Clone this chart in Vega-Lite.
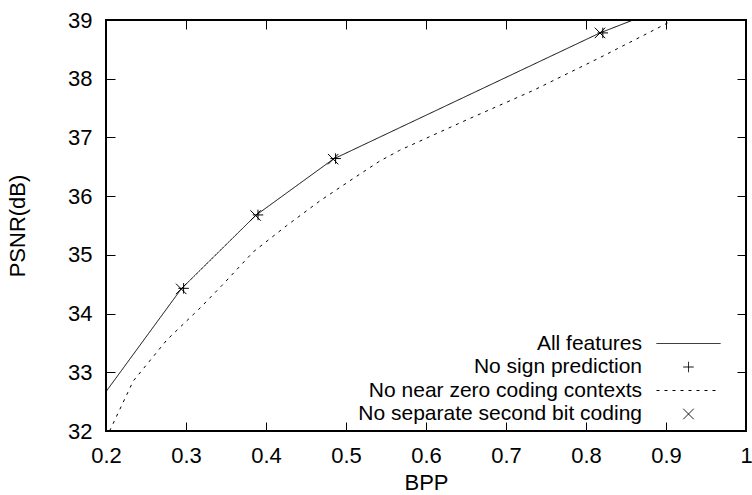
{
  "$schema": "https://vega.github.io/schema/vega-lite/v6.json",
  "width": 640,
  "height": 411,
  "autosize": {"type": "none"},
  "padding": {"left": 106, "top": 20, "right": 6, "bottom": 64},
  "background": "white",
  "config": {
    "view": {"stroke": "black", "strokeWidth": 2},
    "font": "Liberation Sans",
    "axis": {
      "domain": false,
      "grid": false,
      "tickColor": "black",
      "tickSize": -9,
      "tickWidth": 1,
      "labelColor": "black",
      "labelFontSize": 22,
      "labelFont": "Liberation Sans",
      "labelFlush": false,
      "labelOverlap": false,
      "titleFontSize": 22,
      "titleFont": "Liberation Sans",
      "titleFontWeight": "normal",
      "titleColor": "black"
    },
    "legend": {
      "labelFont": "Liberation Sans",
      "labelFontSize": 21,
      "labelColor": "black",
      "labelLimit": 500,
      "symbolStrokeColor": "black",
      "symbolFillColor": "transparent",
      "symbolStrokeWidth": 1,
      "symbolSize": 110,
      "padding": 0
    }
  },
  "data": {
    "values": [
      {"s": "All features", "bpp": 0.2, "psnr": 32.67},
      {"s": "All features", "bpp": 0.294, "psnr": 34.42},
      {"s": "All features", "bpp": 0.387, "psnr": 35.67},
      {"s": "All features", "bpp": 0.484, "psnr": 36.63},
      {"s": "All features", "bpp": 0.8175, "psnr": 38.78},
      {"s": "All features", "bpp": 1.0, "psnr": 39.75},
      {"s": "No sign prediction", "bpp": 0.297, "psnr": 34.43},
      {"s": "No sign prediction", "bpp": 0.39, "psnr": 35.68},
      {"s": "No sign prediction", "bpp": 0.487, "psnr": 36.64},
      {"s": "No sign prediction", "bpp": 0.821, "psnr": 38.78},
      {"s": "No near zero coding contexts", "bpp": 0.2045, "psnr": 32.0},
      {"s": "No near zero coding contexts", "bpp": 0.234, "psnr": 32.85},
      {"s": "No near zero coding contexts", "bpp": 0.276, "psnr": 33.55},
      {"s": "No near zero coding contexts", "bpp": 0.318, "psnr": 34.1},
      {"s": "No near zero coding contexts", "bpp": 0.345, "psnr": 34.48},
      {"s": "No near zero coding contexts", "bpp": 0.384, "psnr": 35.05},
      {"s": "No near zero coding contexts", "bpp": 0.426, "psnr": 35.5},
      {"s": "No near zero coding contexts", "bpp": 0.4675, "psnr": 35.92},
      {"s": "No near zero coding contexts", "bpp": 0.509, "psnr": 36.3},
      {"s": "No near zero coding contexts", "bpp": 0.5425, "psnr": 36.6},
      {"s": "No near zero coding contexts", "bpp": 0.567, "psnr": 36.78},
      {"s": "No near zero coding contexts", "bpp": 0.651, "psnr": 37.3},
      {"s": "No near zero coding contexts", "bpp": 0.734, "psnr": 37.8},
      {"s": "No near zero coding contexts", "bpp": 0.8175, "psnr": 38.36},
      {"s": "No near zero coding contexts", "bpp": 0.9008, "psnr": 38.94},
      {"s": "No near zero coding contexts", "bpp": 0.91, "psnr": 39.02},
      {"s": "No separate second bit coding", "bpp": 0.294, "psnr": 34.42},
      {"s": "No separate second bit coding", "bpp": 0.387, "psnr": 35.67},
      {"s": "No separate second bit coding", "bpp": 0.484, "psnr": 36.63},
      {"s": "No separate second bit coding", "bpp": 0.8175, "psnr": 38.78}
    ]
  },
  "layer": [
    {
      "transform": [{"filter": {"field": "s", "oneOf": ["All features", "No near zero coding contexts"]}}],
      "mark": {"type": "line", "clip": true, "color": "black", "strokeWidth": 1},
      "encoding": {
        "x": {
          "field": "bpp", "type": "quantitative",
          "scale": {"domain": [0.2, 1], "nice": false, "zero": false},
          "axis": {"orient": "bottom", "title": "BPP", "values": [0.2, 0.3, 0.4, 0.5, 0.6, 0.7, 0.8, 0.9, 1], "format": "~g", "labelPadding": 23, "titlePadding": 6}
        },
        "y": {
          "field": "psnr", "type": "quantitative",
          "scale": {"domain": [32, 39], "nice": false, "zero": false},
          "axis": {"orient": "left", "title": "PSNR(dB)", "values": [32, 33, 34, 35, 36, 37, 38, 39], "format": "~g", "labelPadding": 23, "titlePadding": 38}
        },
        "strokeDash": {
          "field": "s", "type": "nominal",
          "scale": {
            "domain": ["All features", "No sign prediction", "No near zero coding contexts", "No separate second bit coding"],
            "range": [[1, 0], [1, 0], [3, 5], [1, 0]]
          },
          "legend": {"title": null, "orient": "none", "legendX": 572, "legendY": 313, "labelAlign": "right", "labelOffset": -57, "rowPadding": 1.5, "labelLimit": 500}
        }
      }
    },
    {
      "transform": [{"filter": {"field": "s", "oneOf": ["No sign prediction", "No separate second bit coding"]}}],
      "mark": {"type": "point", "clip": true, "color": "black", "filled": false, "size": 110, "strokeWidth": 1, "opacity": 1},
      "encoding": {
        "x": {
          "field": "bpp", "type": "quantitative",
          "scale": {"domain": [0.2, 1], "nice": false, "zero": false},
          "axis": {"orient": "top", "labels": false, "title": null, "values": [0.2, 0.3, 0.4, 0.5, 0.6, 0.7, 0.8, 0.9, 1]}
        },
        "y": {
          "field": "psnr", "type": "quantitative",
          "scale": {"domain": [32, 39], "nice": false, "zero": false},
          "axis": {"orient": "right", "labels": false, "title": null, "values": [32, 33, 34, 35, 36, 37, 38, 39]}
        },
        "shape": {
          "field": "s", "type": "nominal",
          "scale": {
            "domain": ["All features", "No sign prediction", "No near zero coding contexts", "No separate second bit coding"],
            "range": ["M-6.1,0L6.1,0", "M-1,0L1,0M0,-1L0,1", "M-6.1,0L6.1,0", "M-1,-1L1,1M-1,1L1,-1"]
          },
          "legend": {"title": null, "orient": "none", "legendX": 572, "legendY": 313, "labelAlign": "right", "labelOffset": -57, "rowPadding": 1.5, "labelLimit": 500}
        }
      }
    }
  ],
  "resolve": {"axis": {"x": "independent", "y": "independent"}}
}
